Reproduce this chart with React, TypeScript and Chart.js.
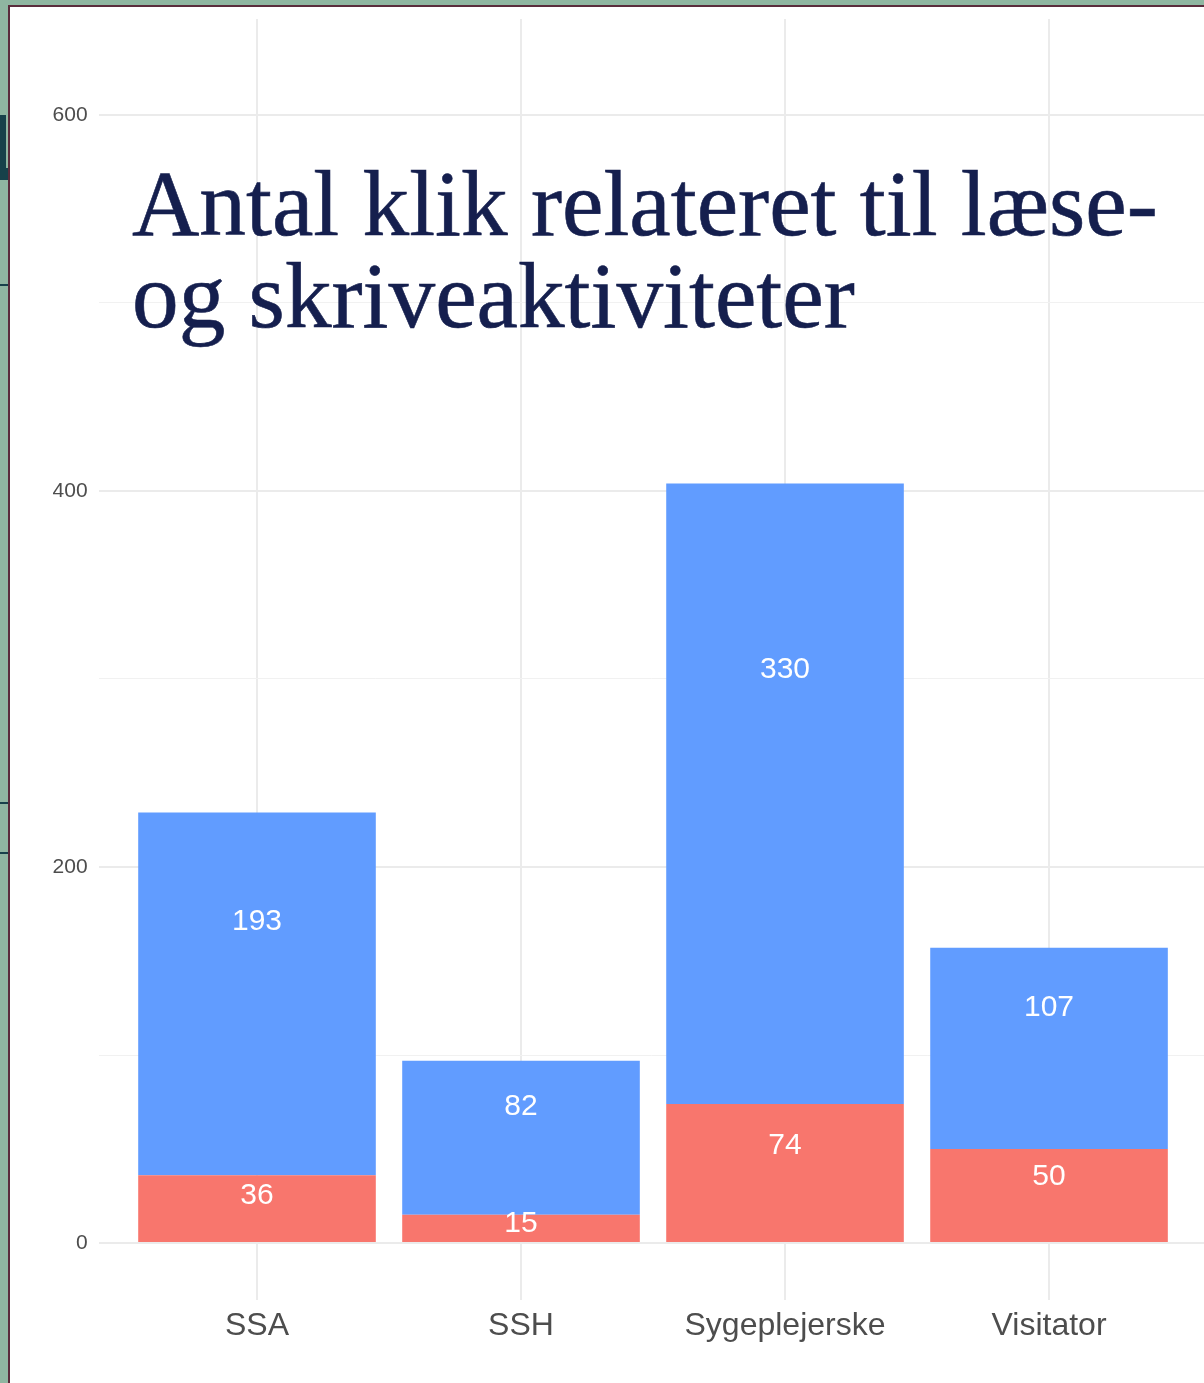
import React, { useEffect, useRef } from 'react';
import { Chart, registerables } from 'chart.js';

Chart.register(...registerables);

const W = 1204;
const H = 1383;

const categories = ['SSA', 'SSH', 'Sygeplejerske', 'Visitator'];
const redValues = [36, 15, 74, 50];
const blueValues = [193, 82, 330, 107];
const seriesNames = ['Serie 1', 'Serie 2'];
const yTickValues = [0, 100, 200, 300, 400, 500, 600];
const titleLines = ['Antal klik relateret til læse-', 'og skriveaktiviteter'];

const RED = '#F8766D';
const BLUE = '#619CFF';
const LABEL_POS = 0.7;

export default function App() {
  const ref = useRef<HTMLCanvasElement>(null);

  useEffect(() => {
    const canvas = ref.current;
    if (!canvas) return;

    const bgPlugin = {
      id: 'bgPlugin',
      beforeDraw(chart: any) {
        const ctx = chart.ctx;
        ctx.save();
        ctx.fillStyle = '#8fb6a1';
        ctx.fillRect(0, 0, W, H);
        // slide fragments behind
        ctx.fillStyle = '#17414a';
        ctx.fillRect(0, 115, 6, 55);
        ctx.fillRect(0, 168, 8, 12);
        ctx.fillRect(0, 284, 8, 2);
        ctx.fillRect(0, 802, 8, 2);
        ctx.fillRect(0, 852, 8, 2);
        // border
        ctx.fillStyle = '#5a2c3c';
        ctx.fillRect(8, 5, W - 8, 2);
        ctx.fillRect(8, 5, 2, H - 5);
        ctx.fillStyle = '#ffffff';
        ctx.fillRect(10, 7, W - 10, H - 7);
        ctx.restore();
      },
    };

    const labelPlugin = {
      id: 'labelPlugin',
      afterDatasetsDraw(chart: any) {
        const ctx = chart.ctx;
        const xs = chart.scales.x;
        const ys = chart.scales.y;
        ctx.save();
        ctx.font = '30px "Liberation Sans", Arial, sans-serif';
        ctx.fillStyle = '#ffffff';
        ctx.textAlign = 'center';
        ctx.textBaseline = 'middle';
        const series = [redValues, blueValues];
        categories.forEach((_, j) => {
          let base = 0;
          series.forEach((vals) => {
            const v = vals[j];
            ctx.fillText(String(v), xs.getPixelForValue(j + 1), ys.getPixelForValue(base + v * LABEL_POS));
            base += v;
          });
        });
        ctx.restore();
      },
    };

    const titlePlugin = {
      id: 'titlePlugin',
      afterDraw(chart: any) {
        const ctx = chart.ctx;
        ctx.save();
        const fam = '"Liberation Serif", Georgia, serif';
        ctx.font = `100px ${fam}`;
        const capH = ctx.measureText('H').actualBoundingBoxAscent;
        const size = (100 * 60) / capH;
        ctx.font = `${size}px ${fam}`;
        const m1 = ctx.measureText(titleLines[0]);
        const w1 = m1.actualBoundingBoxLeft + m1.actualBoundingBoxRight;
        const sx = 1023 / w1;
        ctx.fillStyle = '#151f4e';
        ctx.strokeStyle = '#151f4e';
        ctx.lineWidth = 0.6;
        ctx.textAlign = 'left';
        ctx.textBaseline = 'alphabetic';
        ctx.translate(132, 0);
        ctx.scale(sx, 1);
        const ox = m1.actualBoundingBoxLeft;
        ctx.fillText(titleLines[0], ox, 235);
        ctx.fillText(titleLines[1], ox, 327);
        ctx.strokeText(titleLines[0], ox, 235);
        ctx.strokeText(titleLines[1], ox, 327);
        ctx.restore();
      },
    };

    const chart = new Chart(canvas, {
      type: 'bar',
      data: {
        datasets: [
          {
            label: seriesNames[0],
            data: redValues.map((v, i) => ({ x: i + 1, y: v })),
            backgroundColor: RED,
            borderWidth: 0,
            barPercentage: 0.9,
            categoryPercentage: 1,
          },
          {
            label: seriesNames[1],
            data: blueValues.map((v, i) => ({ x: i + 1, y: v })),
            backgroundColor: BLUE,
            borderWidth: 0,
            barPercentage: 0.9,
            categoryPercentage: 1,
          },
        ],
      },
      options: {
        responsive: false,
        animation: false,
        devicePixelRatio: 1,
        layout: { padding: { top: 19, left: 0, right: 0, bottom: 0 } },
        plugins: {
          legend: { display: false },
          tooltip: { enabled: false },
          title: { display: false },
        },
        scales: {
          x: {
            type: 'linear',
            stacked: true,
            min: 0.4,
            max: 4.587,
            offset: false,
            afterBuildTicks: (s: any) => {
              s.ticks = categories.map((_, i) => ({ value: i + 1 }));
            },
            afterFit: (s: any) => {
              s.height = 83;
              s.paddingLeft = 0;
              s.paddingRight = 0;
            },
            grid: { color: '#ebebeb', lineWidth: 2, drawTicks: false, offset: false },
            border: { display: false },
            ticks: {
              autoSkip: false,
              maxRotation: 0,
              minRotation: 0,
              padding: 7,
              color: '#4d4d4d',
              font: { family: '"Liberation Sans", Arial, sans-serif', size: 32, lineHeight: 1.2 },
              callback: (v: any) => categories[Math.round(Number(v)) - 1] ?? '',
            },
          },
          y: {
            type: 'linear',
            stacked: true,
            min: -30.3,
            max: 651,
            afterBuildTicks: (s: any) => {
              s.ticks = yTickValues.map((v) => ({ value: v }));
            },
            afterFit: (s: any) => {
              s.width = 98.6;
              s.paddingTop = 0;
              s.paddingBottom = 0;
            },
            grid: {
              color: (c: any) => (c.tick && c.tick.value % 200 === 0 ? '#ebebeb' : '#f1f1f1'),
              lineWidth: (c: any) => (c.tick && c.tick.value % 200 === 0 ? 2 : 1),
              drawTicks: false,
            },
            border: { display: false },
            ticks: {
              padding: 11,
              color: '#4d4d4d',
              font: { family: '"Liberation Sans", Arial, sans-serif', size: 21 },
              callback: (v: any) => (Number(v) % 200 === 0 ? String(v) : ''),
            },
          },
        },
      } as any,
      plugins: [bgPlugin, labelPlugin, titlePlugin],
    });

    return () => chart.destroy();
  }, []);

  return (
    <div style={{ position: 'absolute', left: 0, top: 0, width: W, height: H }}>
      <canvas ref={ref} width={W} height={H} style={{ display: 'block', width: W, height: H }} />
    </div>
  );
}
